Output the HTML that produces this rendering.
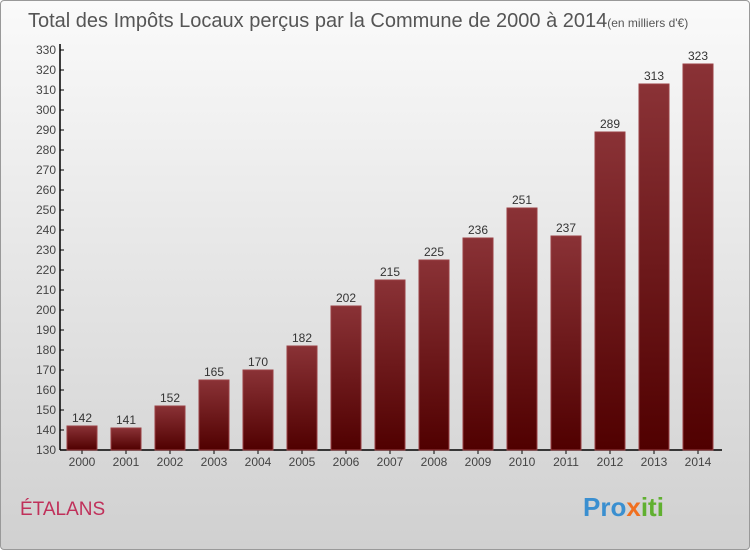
<!DOCTYPE html>
<html><head><meta charset="utf-8"><style>
body{margin:0;width:750px;height:550px;overflow:hidden;font-family:"Liberation Sans",sans-serif}
#bg{position:absolute;left:0;top:0;width:748px;height:548px;border:1px solid #999;border-radius:4px;background:linear-gradient(#fafafa,#d0d0d0)}
</style></head><body>
<div id="bg"></div>
<svg id="c" width="750" height="550" style="position:absolute;left:0;top:0">
<defs><linearGradient id="g" x1="0" y1="0" x2="0" y2="1"><stop offset="0" stop-color="#8a3236"/><stop offset="1" stop-color="#500000"/></linearGradient></defs>
<text x="28" y="27" font-size="20" fill="#555">Total des Impôts Locaux perçus par la Commune de 2000 à 2014<tspan font-size="12">(en milliers d'€)</tspan></text>
<text x="20" y="515" font-size="19" fill="#c0305a">ÉTALANS</text>
<text x="583" y="516" font-size="26" font-weight="bold" fill="#3a8fd0">Pro<tspan fill="#f07020">x</tspan><tspan fill="#60b030">iti</tspan></text>
<g id="axes"></g><g id="bars"></g>
</svg>
<script>
const years=["2000","2001","2002","2003","2004","2005","2006","2007","2008","2009","2010","2011","2012","2013","2014"];
const values=[142,141,152,165,170,182,202,215,225,236,251,237,289,313,323];
const yTicks=[130,140,150,160,170,180,190,200,210,220,230,240,250,260,270,280,290,300,310,320,330];
const NS="http://www.w3.org/2000/svg";
const y=v=>450-(v-130)*2;
const xc=i=>82+i*44;
function mk(t,a,p){const e=document.createElementNS(NS,t);for(const k in a)e.setAttribute(k,a[k]);p.appendChild(e);return e;}
const ax=document.getElementById('axes'),bs=document.getElementById('bars');
const yl=mk('line',{x1:60,y1:44,x2:60,y2:450,stroke:'#000','stroke-width':1.5},ax);


const xl=mk('line',{x1:60,y1:450,x2:722,y2:450,stroke:'#000','stroke-width':1.5},ax);


yTicks.forEach(v=>{
 mk('line',{x1:60,y1:y(v),x2:64,y2:y(v),stroke:'#000'},ax);
 const t=mk('text',{x:56,y:y(v)+4,'text-anchor':'end','font-size':12,fill:'#444'},ax);t.textContent=v;
 
 
});
years.forEach((yr,i)=>{
 const v=values[i];
 const r=mk('rect',{x:xc(i)-15,y:y(v),width:30,height:450-y(v),fill:'url(#g)',stroke:'#9a4044','stroke-width':1},bs);
 
 
 const l=mk('text',{x:xc(i),y:y(v)-4,'text-anchor':'middle','font-size':12,fill:'#333'},bs);l.textContent=v;
 
 
 mk('line',{x1:xc(i),y1:450,x2:xc(i),y2:454,stroke:'#000'},ax);
 const xt=mk('text',{x:xc(i),y:466,'text-anchor':'middle','font-size':12,fill:'#444'},ax);xt.textContent=yr;
 
 
});
</script>
</body></html>
